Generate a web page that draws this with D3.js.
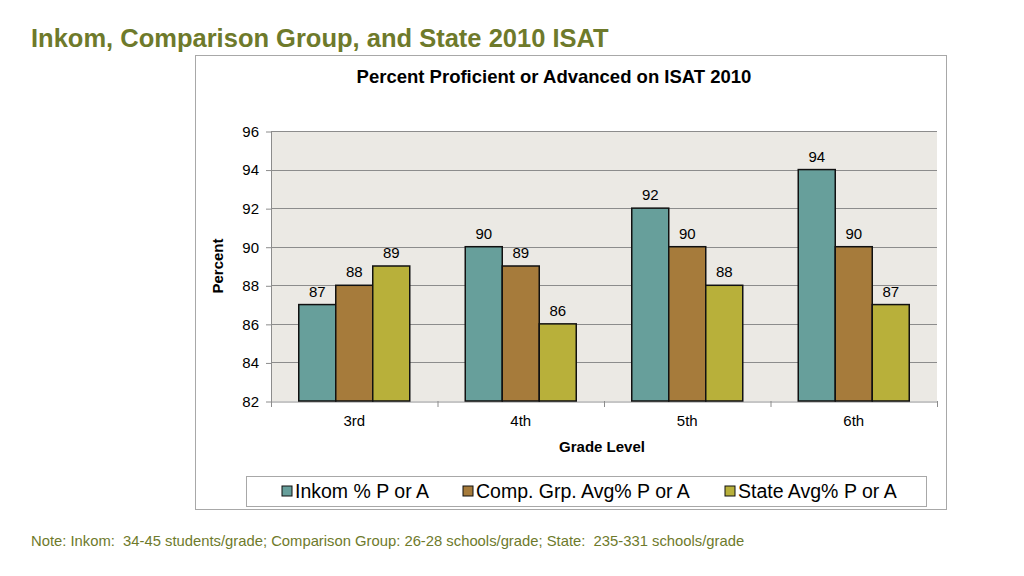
<!DOCTYPE html>
<html>
<head>
<meta charset="utf-8">
<script src="https://cdn.jsdelivr.net/npm/d3@7"></script>
<style>
  body { margin: 0; background: #fff; }
  text { font-family: "Liberation Sans", Arial, sans-serif; white-space: pre; }
</style>
</head>
<body>
<div id="chart"></div>
<script>
const grades = ["3rd", "4th", "5th", "6th"];
const seriesNames = ["Inkom % P or A", "Comp. Grp. Avg% P or A", "State Avg% P or A"];
const inkom = [87, 90, 92, 94];
const compGroup = [88, 89, 90, 90];
const state = [89, 86, 88, 87];
const yTicks = [82, 84, 86, 88, 90, 92, 94, 96];
const colors = ["#679f9b", "#a67b3b", "#b8b03a"];

const width = 1024, height = 576;
const plot = { left: 271, right: 937, top: 131, bottom: 401 };

const svg = d3.select("#chart").append("svg")
    .attr("width", width)
    .attr("height", height);

// slide title
svg.append("text")
    .attr("x", 31).attr("y", 47)
    .attr("font-size", 25.5).attr("font-weight", "bold")
    .attr("fill", "#6e7a2b")
    .text("Inkom, Comparison Group, and State 2010 ISAT");

// chart frame
svg.append("rect")
    .attr("x", 195.5).attr("y", 55.5)
    .attr("width", 751).attr("height", 454)
    .attr("fill", "#fff").attr("stroke", "#a8a8a8");

svg.append("text")
    .attr("x", 554).attr("y", 83)
    .attr("text-anchor", "middle")
    .attr("font-size", 18.5).attr("font-weight", "bold")
    .text("Percent Proficient or Advanced on ISAT 2010");

const x0 = d3.scaleBand()
    .domain(grades)
    .range([plot.left, plot.right])
    .paddingInner(0).paddingOuter(0);

const x1 = d3.scaleBand()
    .domain(d3.range(seriesNames.length))
    .range([0, x0.bandwidth()])
    .paddingInner(0)
    .paddingOuter(0.75);

const y = d3.scaleLinear()
    .domain([82, 96])
    .range([plot.bottom, plot.top]);

// plot background
svg.append("rect")
    .attr("x", plot.left).attr("y", plot.top)
    .attr("width", plot.right - plot.left).attr("height", plot.bottom - plot.top)
    .attr("fill", "#ebe9e4");

// gridlines
svg.append("g")
    .selectAll("line")
    .data(yTicks.slice(1))
    .enter().append("line")
    .attr("x1", plot.left).attr("x2", plot.right)
    .attr("y1", d => Math.round(y(d)) + 0.5).attr("y2", d => Math.round(y(d)) + 0.5)
    .attr("stroke", "#8c8c8c").attr("stroke-width", 1);

// y axis
const yAxis = svg.append("g")
    .attr("transform", `translate(${plot.left}, 0.5)`)
    .call(d3.axisLeft(y).tickValues(yTicks).tickSize(5).tickSizeOuter(0));
yAxis.select(".domain").attr("stroke", "#8c8c8c");
yAxis.selectAll(".tick line").attr("stroke", "#8c8c8c");
yAxis.selectAll("text")
    .attr("font-size", 15).attr("fill", "#000")
    .attr("font-family", "Liberation Sans, Arial, sans-serif")
    .attr("x", -12);

// x axis
const xAxis = svg.append("g")
    .attr("transform", `translate(0, ${plot.bottom + 0.5})`)
    .call(d3.axisBottom(x0).tickSize(0).tickSizeOuter(0));
xAxis.select(".domain").attr("stroke", "#8c8c8c");
xAxis.selectAll("text")
    .attr("font-size", 15).attr("fill", "#000")
    .attr("font-family", "Liberation Sans, Arial, sans-serif")
    .attr("dy", "1.45em");

// category separators
svg.append("g")
    .selectAll("line")
    .data(grades.concat(["end"]))
    .enter().append("line")
    .attr("x1", (d, i) => plot.left + i * x0.bandwidth() + 0.5)
    .attr("x2", (d, i) => plot.left + i * x0.bandwidth() + 0.5)
    .attr("y1", plot.bottom).attr("y2", plot.bottom + 6)
    .attr("stroke", "#8c8c8c");

// bars
const series = [inkom, compGroup, state];
const barData = [];
grades.forEach((g, gi) => {
    series.forEach((s, si) => barData.push({ grade: g, si: si, value: s[gi] }));
});

svg.append("g")
    .selectAll("rect")
    .data(barData)
    .enter().append("rect")
    .attr("x", d => x0(d.grade) + x1(d.si))
    .attr("y", d => y(d.value))
    .attr("width", x1.bandwidth())
    .attr("height", d => y(82) - y(d.value))
    .attr("fill", d => colors[d.si])
    .attr("stroke", "#111").attr("stroke-width", 1.5);

svg.append("g")
    .selectAll("text")
    .data(barData)
    .enter().append("text")
    .attr("x", d => x0(d.grade) + x1(d.si) + x1.bandwidth() / 2)
    .attr("y", d => y(d.value) - 8)
    .attr("text-anchor", "middle")
    .attr("font-size", 15)
    .text(d => d.value);

// axis titles
svg.append("text")
    .attr("transform", "translate(223, 266) rotate(-90)")
    .attr("text-anchor", "middle")
    .attr("font-size", 15).attr("font-weight", "bold")
    .text("Percent");

svg.append("text")
    .attr("x", 602).attr("y", 452)
    .attr("text-anchor", "middle")
    .attr("font-size", 15).attr("font-weight", "bold")
    .text("Grade Level");

// legend
svg.append("rect")
    .attr("x", 246.5).attr("y", 476.5)
    .attr("width", 680).attr("height", 30)
    .attr("fill", "#fff").attr("stroke", "#a8a8a8");

const legendX = [282, 463, 725];
const legend = svg.append("g")
    .selectAll("g")
    .data(seriesNames)
    .enter().append("g")
    .attr("transform", (d, i) => `translate(${legendX[i]}, 491)`);
legend.append("rect")
    .attr("x", 0).attr("y", -5)
    .attr("width", 10).attr("height", 10)
    .attr("fill", (d, i) => colors[i])
    .attr("stroke", "#111").attr("stroke-width", 1);
legend.append("text")
    .attr("x", 13).attr("y", 7)
    .attr("font-size", 19.5)
    .text(d => d);

// footnote
svg.append("text")
    .attr("x", 31).attr("y", 546)
    .attr("font-size", 14.8)
    .attr("fill", "#6e7a2b")
    .text("Note: Inkom:  34-45 students/grade; Comparison Group: 26-28 schools/grade; State:  235-331 schools/grade");
</script>
</body>
</html>
